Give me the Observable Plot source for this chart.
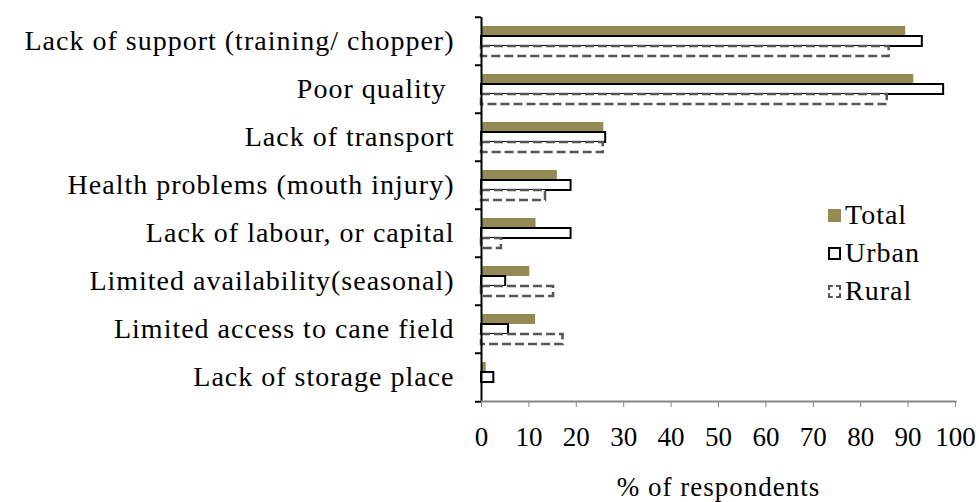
<!DOCTYPE html>
<html>
<head>
<meta charset="utf-8">
<script src="https://cdn.jsdelivr.net/npm/d3@7"></script>
<script src="https://cdn.jsdelivr.net/npm/@observablehq/plot@0.6"></script>
<style>
  html, body { margin: 0; padding: 0; background: #fff; }
  #wrap { position: relative; width: 979px; height: 502px; font-family: "Liberation Serif", "DejaVu Serif", serif; }
  #legend { position: absolute; left: 828px; top: 196px; font-size: 28px; letter-spacing: 1px; color: #000; }
  #legend .item { display: flex; align-items: center; height: 38px; }
  #legend .sw { width: 13px; height: 13px; margin-right: 4px; box-sizing: border-box; }
  [aria-label="fy-axis tick label"] text { letter-spacing: 1px; }
  [aria-label="x-axis label"] text { letter-spacing: 1px; }
</style>
</head>
<body>
<div id="wrap">
  <div id="chart"></div>
  <div id="legend"></div>
</div>
<script>
const categories = [
  "Lack of support (training/ chopper)",
  "Poor quality ",
  "Lack of transport",
  "Health problems (mouth injury)",
  "Lack of labour, or capital",
  "Limited availability(seasonal)",
  "Limited access to cane field",
  "Lack of storage place"
];
const seriesNames = ["Total", "Urban", "Rural"];
const totalValues = [89.5, 91.2, 25.8, 16.0, 11.5, 10.2, 11.4, 1.0];
const urbanValues = [93.0, 97.5, 26.2, 18.9, 18.9, 5.1, 5.7, 2.6];
const ruralValues = [86.0, 85.6, 25.7, 13.5, 4.2, 15.2, 17.2, 0];
const xTicks = [0, 10, 20, 30, 40, 50, 60, 70, 80, 90, 100];

const olive = "#948A54";
const rows = [];
categories.forEach((c, i) => {
  rows.push({category: c, series: "Total", value: totalValues[i]});
  rows.push({category: c, series: "Urban", value: urbanValues[i]});
  rows.push({category: c, series: "Rural", value: ruralValues[i]});
});

const W = 979, H = 502, mT = 15, mB = 99, mL = 481, mR = 24;
const bw = (H - mT - mB) / categories.length;
const FONT = '"Liberation Serif", "DejaVu Serif", serif';

const chart = Plot.plot({
  width: W, height: H,
  marginTop: mT, marginBottom: mB, marginLeft: mL, marginRight: mR,
  style: {fontFamily: FONT, fontSize: "27px", color: "black", background: "white"},
  x: {domain: [0, 100], axis: null},
  y: {domain: seriesNames, paddingInner: 0, paddingOuter: 0.7, axis: null},
  fy: {domain: categories, padding: 0, axis: null},
  marks: [
    Plot.barX(rows.filter(d => d.series === "Total"), {x: "value", y: "series", fy: "category", fill: olive}),
    Plot.barX(rows.filter(d => d.series === "Urban"), {x: "value", y: "series", fy: "category", fill: "white", stroke: "black", strokeWidth: 2}),
    Plot.barX(rows.filter(d => d.series === "Rural"), {x: "value", y: "series", fy: "category", fill: "white", stroke: "#555555", strokeWidth: 2.5, strokeDasharray: "9,4"}),
    Plot.ruleX([0], {stroke: "black", strokeWidth: 2}),
    Plot.frame({anchor: "bottom", stroke: "#868686", strokeWidth: 2, facetAnchor: "bottom"}),
    Plot.axisX({ticks: xTicks, tickSize: 6, tickPadding: 19, stroke: "#868686", fill: "black", fontSize: 27, fontFamily: FONT,
      label: "% of respondents", labelAnchor: "center", labelOffset: 94, labelArrow: "none"}),
    Plot.axisFy({anchor: "left", tickSize: 0, tickPadding: 27, label: null, fontSize: 28, fontFamily: FONT, fill: "black"}),
    Plot.axisFy({anchor: "left", tickSize: 6, tickFormat: () => "", label: null, dy: -bw / 2, stroke: "black", strokeWidth: 2}),
    Plot.axisFy({anchor: "left", ticks: [categories[categories.length - 1]], tickSize: 6, tickFormat: () => "", label: null, dy: bw / 2, stroke: "black", strokeWidth: 2})
  ]
});
document.getElementById("chart").appendChild(chart);

const legend = document.getElementById("legend");
const swatchStyles = {
  Total: `background:${olive};`,
  Urban: "background:white;border:2px solid black;",
  Rural: "background:white;border:2px dashed #555555;"
};
seriesNames.forEach(s => {
  const item = document.createElement("div");
  item.className = "item";
  item.innerHTML = `<span class="sw" style="${swatchStyles[s]}"></span><span>${s}</span>`;
  legend.appendChild(item);
});
</script>
</body>
</html>
